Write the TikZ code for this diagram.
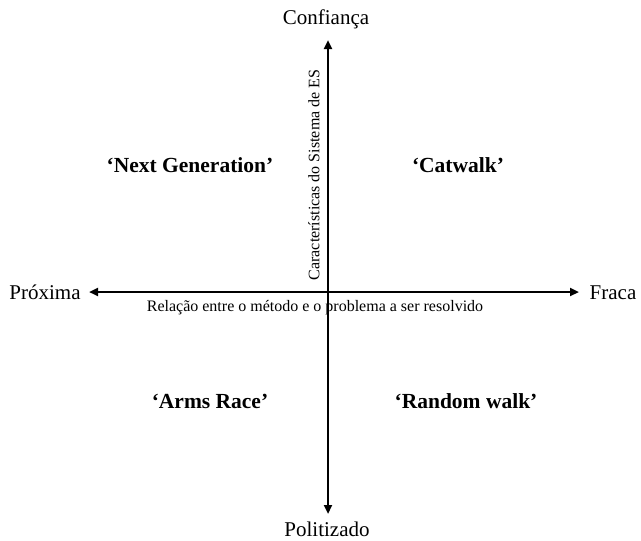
\documentclass[tikz,border=0pt]{standalone}
\usepackage{fontspec}
\setmainfont{Liberation Serif}
\usetikzlibrary{arrows.meta}
\begin{document}
\begin{tikzpicture}[x=1pt,y=-1pt,
  axis/.style={line width=2.6pt,-{Triangle[length=9pt,width=8pt]}},
  endlabel/.style={font=\fontsize{21}{24}\selectfont,inner sep=0pt},
  quad/.style={font=\bfseries\fontsize{21.5}{24}\selectfont,inner sep=0pt},
  axislabel/.style={font=\fontsize{16}{18}\selectfont,inner sep=0pt}]
\useasboundingbox[fill=white] (0,0) rectangle (641,541);
\coordinate (c) at (328,292);
\coordinate (top) at (328,40);
\coordinate (bot) at (328,514);
\coordinate (left) at (89,292);
\coordinate (right) at (579,292);
\draw[axis] (c) -- (top);
\draw[axis] (c) -- (bot);
\draw[axis] (c) -- (left);
\draw[axis] (c) -- (right);
\node[endlabel] (conf) at (326,19) {Confiança};
\node[endlabel] (pol) at (327,529) {Politizado};
\node[endlabel] (prox) at (45,292) {Próxima};
\node[endlabel] (frac) at (613,293) {Fraca};
\node[axislabel,rotate=90] (vlab) at (314,175) {Características do Sistema de ES};
\node[axislabel] (hlab) at (315,308) {Relação entre o método e o problema a ser resolvido};
\node[quad] (ng) at (190,165) {‘Next Generation’};
\node[quad] (cw) at (458,165) {‘Catwalk’};
\node[quad] (ar) at (210,401) {‘Arms Race’};
\node[quad] (rw) at (466,401) {‘Random walk’};
\end{tikzpicture}
\end{document}
